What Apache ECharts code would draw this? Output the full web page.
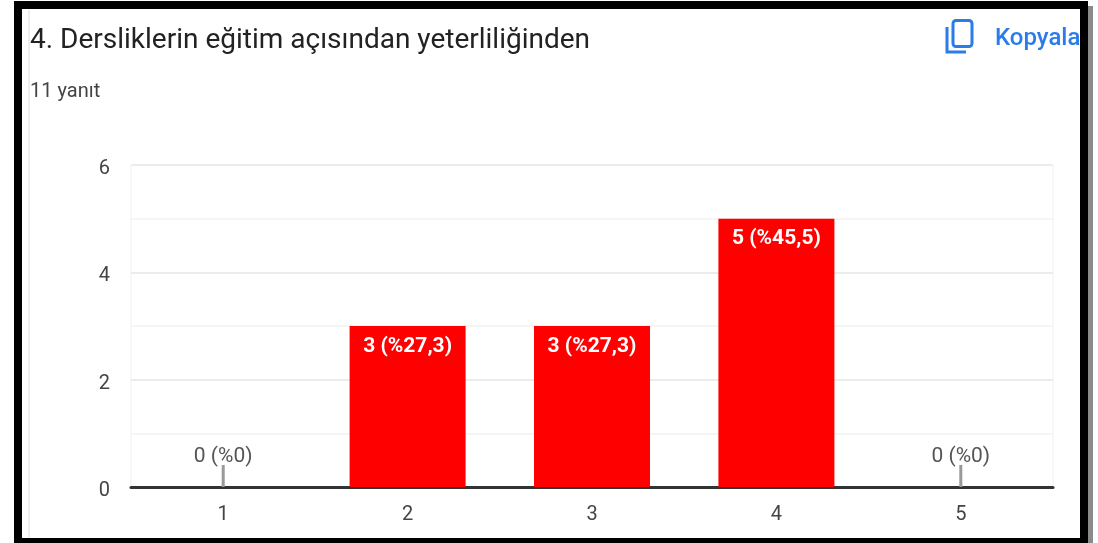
<!DOCTYPE html>
<html><head><meta charset="utf-8">
<style>html,body{margin:0;padding:0;background:#fff}#c{width:1098px;height:543px;filter:blur(0.5px)}</style>
<script src="https://cdn.jsdelivr.net/npm/echarts@6/dist/echarts.min.js"></script>
</head><body><div id="c"></div>
<script>
const categories = ['1','2','3','4','5'];
const barValues = [null,3,3,5,null];
const zeroValues = [0,null,null,null,0];
const barLabels = ['', '3 (%27,3)', '3 (%27,3)', '5 (%45,5)', ''];
const zeroLabels = ['0 (%0)', '', '', '', '0 (%0)'];
const chartTitle = '4. Dersliklerin eğitim açısından yeterliliğinden';
const subtitle = '11 yanıt';
const copyText = 'Kopyala';

const chart = echarts.init(document.getElementById('c'), null, {renderer:'canvas'});
const frame = '#000';
chart.setOption({
  animation:false,
  backgroundColor:'#fff',
  textStyle:{fontFamily:'Roboto'},
  grid:{left:131,right:45,top:165,bottom:56,show:true,borderColor:'#f1f1f1',borderWidth:1},
  xAxis:[
    {type:'category',data:categories,
     axisLine:{lineStyle:{color:'#333',width:3}},
     axisTick:{show:false},
     axisLabel:{color:'#444',fontSize:20,margin:18,fontFamily:'Roboto'}},
    {type:'category',data:categories,show:false}
  ],
  yAxis:{type:'value',min:0,max:6,interval:2,
    axisLine:{show:false},axisTick:{show:false},
    axisLabel:{color:'#444',fontSize:20,margin:21,fontFamily:'Roboto',verticalAlign:'top',lineHeight:8},
    splitLine:{lineStyle:{color:'#ececec',width:2}},
    minorTick:{show:false,splitNumber:2},
    minorSplitLine:{show:true,lineStyle:{color:'#f5f5f5',width:2}}},
  series:[
    {type:'bar',data:barValues,barWidth:116,z:3,
     itemStyle:{color:'#ff0000'},
     label:{show:true,position:'insideTop',distance:10,color:'#fff',fontSize:21,fontWeight:'bold',fontFamily:'Roboto',
       formatter:p=>barLabels[p.dataIndex]}},
    {type:'bar',xAxisIndex:1,data:zeroValues,barWidth:3,barMinHeight:22,z:2,
     itemStyle:{color:'#999'},
     label:{show:true,position:'top',distance:-2,color:'#555',fontSize:21,fontFamily:'Roboto',
       formatter:p=>zeroLabels[p.dataIndex]}}
  ],
  graphic:[
    {type:'line',silent:true,z:5,shape:{x1:29,y1:10,x2:29,y2:538},style:{stroke:'#eeeeee',lineWidth:2}},
    {type:'text',silent:true,z:5,left:30,top:27,style:{text:chartTitle,fill:'#222',font:'28px Roboto'}},
    {type:'text',silent:true,z:5,left:30,top:82,style:{text:subtitle,fill:'#444',font:'20px Roboto'}},
    {type:'text',silent:true,z:5,left:995,top:27,style:{text:copyText,fill:'#2a7de9',font:'500 24px Roboto'}},
    {type:'rect',silent:true,z:5,shape:{x:953,y:20.5,width:19,height:26,r:3},style:{fill:'none',stroke:'#2a7de9',lineWidth:3}},
    {type:'polyline',silent:true,z:5,shape:{points:[[947,27],[947,52],[966,52]]},style:{fill:'none',stroke:'#2a7de9',lineWidth:3}},
    {type:'rect',silent:true,z:9,shape:{x:1088,y:6,width:5,height:537},style:{fill:'#8a8a8a'}},
    {type:'rect',silent:true,z:10,shape:{x:14,y:1,width:1074,height:8},style:{fill:frame}},
    {type:'rect',silent:true,z:10,shape:{x:14,y:1,width:8,height:542},style:{fill:frame}},
    {type:'rect',silent:true,z:10,shape:{x:1080,y:1,width:8,height:542},style:{fill:frame}},
    {type:'rect',silent:true,z:10,shape:{x:14,y:538,width:1074,height:5},style:{fill:frame}}
  ]
});
</script></body></html>
